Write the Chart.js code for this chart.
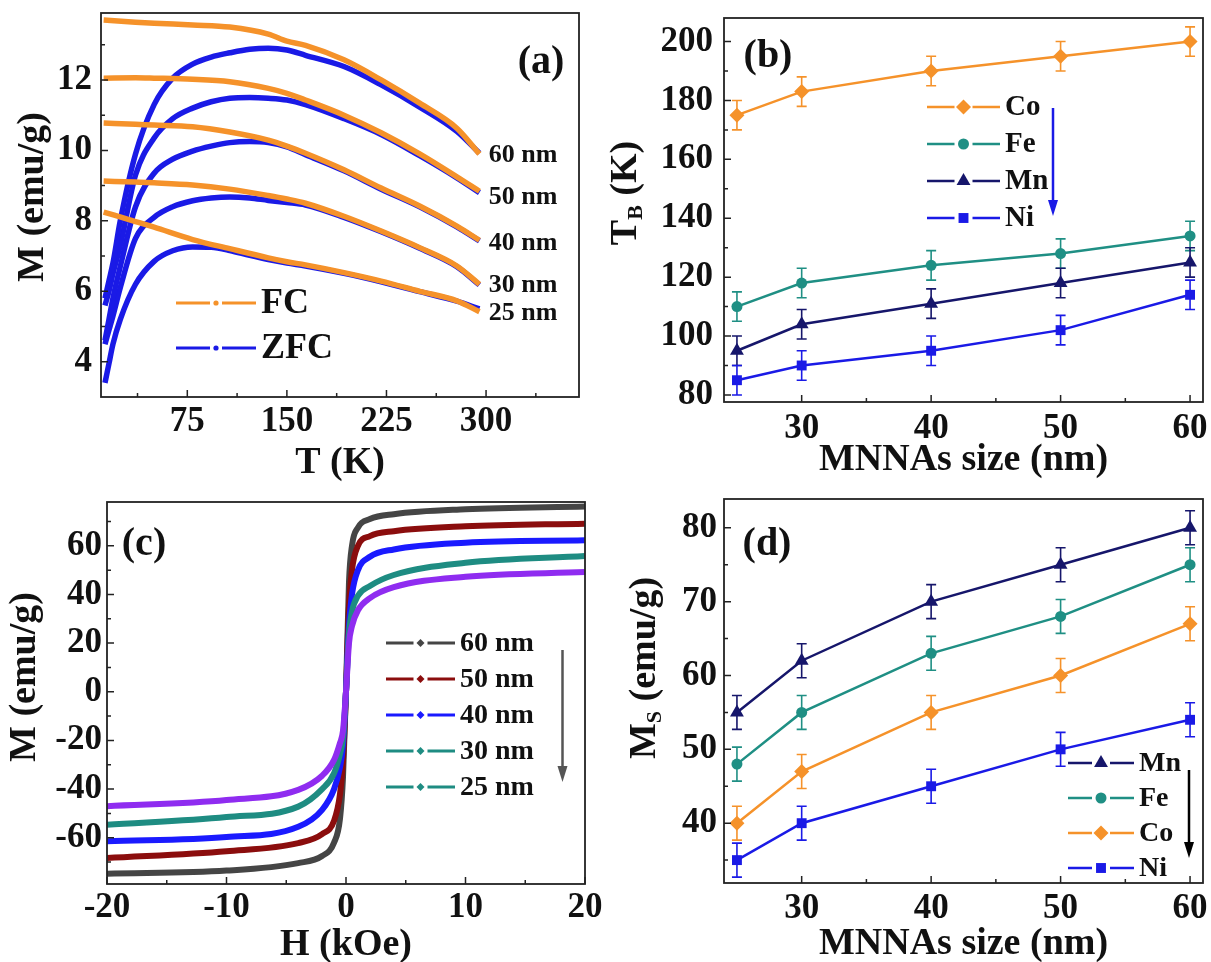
<!DOCTYPE html>
<html>
<head>
<meta charset="utf-8">
<script src="https://cdn.jsdelivr.net/npm/chart.js@4.4.1/dist/chart.umd.min.js"></script>
<style>
body { margin: 0; background: #fff; }
#fig { position: relative; width: 1211px; height: 962px; overflow: hidden; background: #fff; }
#fig canvas { position: absolute; }
</style>
</head>
<body>
<div id="fig">
  <canvas id="chartA" width="600" height="486" style="left:0;top:0"></canvas>
  <canvas id="chartB" width="611" height="486" style="left:600px;top:0"></canvas>
  <canvas id="chartC" width="611" height="480" style="left:0;top:482px"></canvas>
  <canvas id="chartD" width="611" height="480" style="left:600px;top:482px"></canvas>
</div>
<script>
// ---- (a) FC / ZFC, M (emu/g) vs T (K)
var tFC = [12, 36, 50, 79, 107, 136, 150, 164, 193, 221, 250, 278, 295];
var fc60 = [13.7, 13.64, 13.61, 13.56, 13.5, 13.3, 13.1, 12.98, 12.57, 12.0, 11.34, 10.63, 9.9];
var fc50 = [12.05, 12.06, 12.05, 12.02, 11.95, 11.76, 11.62, 11.43, 11.0, 10.5, 9.9, 9.25, 8.84];
var fc40 = [10.78, 10.74, 10.72, 10.67, 10.52, 10.29, 10.12, 9.92, 9.45, 8.93, 8.42, 7.85, 7.45];
var fc30 = [9.13, 9.1, 9.08, 9.02, 8.9, 8.72, 8.62, 8.5, 8.13, 7.71, 7.24, 6.72, 6.2];
var fc25 = [8.25, 7.98, 7.82, 7.47, 7.21, 6.95, 6.84, 6.75, 6.53, 6.29, 6.0, 5.73, 5.42];

var tZFC = [13, 16, 19, 24.5, 36, 50, 64, 79, 93, 107, 122, 136, 150, 164, 193, 221, 250, 278, 295];
var zfc60 = [5.8, 6.3, 6.8, 8.0, 9.9, 11.3, 12.05, 12.45, 12.65, 12.77, 12.87, 12.9, 12.85, 12.7, 12.38, 11.86, 11.23, 10.54, 9.92];
var zfc50 = [5.6, 6.0, 6.5, 7.3, 9.3, 10.35, 10.9, 11.2, 11.38, 11.48, 11.5, 11.48, 11.43, 11.3, 10.9, 10.45, 9.85, 9.22, 8.8];
var zfc40 = [4.6, 5.2, 5.8, 6.7, 8.4, 9.35, 9.75, 9.98, 10.12, 10.22, 10.25, 10.22, 10.1, 9.88, 9.42, 8.9, 8.4, 7.83, 7.43];
var zfc30 = [4.5, 4.9, 5.3, 6.1, 7.5, 8.1, 8.4, 8.57, 8.65, 8.68, 8.65, 8.58, 8.52, 8.45, 8.1, 7.69, 7.22, 6.7, 6.18];
var zfc25 = [3.4, 3.95, 4.5, 5.2, 6.2, 6.85, 7.15, 7.26, 7.25, 7.16, 7.02, 6.9, 6.8, 6.72, 6.51, 6.27, 5.99, 5.72, 5.5];

// ---- (c) M (emu/g) vs H (kOe)
var hField = [-20, -10, -4, -2, -1, -0.5, -0.25, 0, 0.25, 0.5, 1, 2, 4, 10, 20];
var m60 = [-74.8, -73.5, -70.4, -67.5, -62, -52, -35, 0, 45, 60, 67.5, 71, 73, 75, 76.2];
var m50 = [-68.3, -65.5, -62.2, -58.5, -53, -42, -28, 0, 35, 50, 60, 64, 66, 68, 69.1];
var m40 = [-61.4, -59.7, -55.5, -48.5, -40, -31, -22, 0, 27, 40, 50, 55.5, 58.5, 61.3, 62.3];
var m30 = [-54.6, -51.5, -47.2, -40, -33.5, -25.5, -19, 0, 24, 33, 39.5, 43.5, 48, 53, 55.8];
var m25 = [-47, -44.5, -40.3, -34.5, -28, -21, -16, 0, 20, 27, 33.5, 38.5, 43, 47.3, 49.2];

// ---- (b) T_B (K) and (d) M_S (emu/g) vs MNNAs size (nm)
var sizes = [25, 30, 40, 50, 60];
var tbCo = [175, 183, 190, 195, 200];
var tbFe = [110, 118, 124, 128, 134];
var tbMn = [95, 104, 111, 118, 125];
var tbNi = [85, 90, 95, 102, 114];
var tbErr = [5, 5, 5, 5, 5];

var msMn = [55, 62, 70, 75, 80];
var msFe = [48, 55, 63, 68, 75];
var msCo = [40, 47, 55, 60, 67];
var msNi = [35, 40, 45, 50, 54];
var msErr = [2.3, 2.3, 2.3, 2.3, 2.3];

// ---- ticks
var ticksTa = [75, 150, 225, 300], minorTa = [37.5, 112.5, 187.5, 262.5, 337.5];
var ticksMa = [4, 6, 8, 10, 12], minorMa = [5, 7, 9, 11, 13];
var ticksSize = [30, 40, 50, 60], minorSize = [35, 45, 55];
var ticksTB = [80, 100, 120, 140, 160, 180, 200], minorTB = [90, 110, 130, 150, 170, 190];
var ticksH = [-20, -10, 0, 10, 20], minorH = [-15, -5, 5, 15];
var ticksMc = [-60, -40, -20, 0, 20, 40, 60], minorMc = [-70, -50, -30, -10, 10, 30, 50, 70];
var ticksMs = [40, 50, 60, 70, 80], minorMs = [35, 45, 55, 65, 75];

var FAM = "'Liberation Serif', 'Times New Roman', serif";
var INK = '#111';
var ORANGE = '#f5922a', TEAL = '#1f8f84', NAVY = '#16166b', BLUE = '#1a1ae6';

function xy(xs, ys) {
  return xs.map(function (x, i) { return { x: x, y: ys[i] }; });
}

function drawMarker(ctx, style, x, y, r) {
  ctx.beginPath();
  if (style === 'circle') {
    ctx.arc(x, y, r, 0, Math.PI * 2);
  } else if (style === 'rect') {
    var s = r * Math.SQRT1_2;
    ctx.rect(x - s, y - s, 2 * s, 2 * s);
  } else if (style === 'rectRot') {
    ctx.moveTo(x, y - r); ctx.lineTo(x + r, y); ctx.lineTo(x, y + r); ctx.lineTo(x - r, y);
    ctx.closePath();
  } else if (style === 'triangle') {
    ctx.moveTo(x, y - r);
    ctx.lineTo(x + r * 0.866, y + r * 0.5);
    ctx.lineTo(x - r * 0.866, y + r * 0.5);
    ctx.closePath();
  }
  ctx.fill();
}

// per-canvas decoration: box, inward ticks, y titles, legends, arrows, labels
var decorCfg = {
  chartA: {
    minorX: minorTa, minorY: minorMa,
    yTitle: { x: 33, y: 197, parts: [{ t: 'M (emu/g)' }] },
    label: { text: '(a)', x: 541, y: 63 },
    legend: { x0: 176, y0: 303, dy: 45, w: 80, gap: 6, lw: 3, size: 36,
      items: [{ label: 'FC', color: ORANGE, marker: 'circle', r: 2.6 },
              { label: 'ZFC', color: BLUE, marker: 'circle', r: 2.6 }] },
    notes: { size: 26, items: [{ text: '60 nm', x: 302, y: 9.87 }, { text: '50 nm', x: 302, y: 8.67 },
      { text: '40 nm', x: 302, y: 7.36 }, { text: '30 nm', x: 302, y: 6.17 }, { text: '25 nm', x: 302, y: 5.37 }] }
  },
  chartB: {
    minorX: minorSize, minorY: minorTB,
    yTitle: { x: 26, y: 193, parts: [{ t: 'T' }, { t: 'B', sub: true }, { t: ' (K)' }] },
    label: { text: '(b)', x: 168, y: 57 },
    legend: { x0: 327, y0: 107, dy: 37, w: 73, gap: 9, lw: 2.5, size: 29,
      items: [{ label: 'Co', color: ORANGE, marker: 'rectRot', r: 7.5 },
              { label: 'Fe', color: TEAL, marker: 'circle', r: 5.5 },
              { label: 'Mn', color: NAVY, marker: 'triangle', r: 8 },
              { label: 'Ni', color: BLUE, marker: 'rect', r: 7 }] },
    arrow: { x: 453, y1: 108, y2: 216, color: BLUE }
  },
  chartC: {
    minorX: minorH, minorY: minorMc,
    yTitle: { x: 25, y: 195, parts: [{ t: 'M (emu/g)' }] },
    label: { text: '(c)', x: 144, y: 63 },
    legend: { x0: 386, y0: 161, dy: 36, w: 69, gap: 7, lw: 3, size: 28,
      items: [{ label: '60 nm', color: '#454545', marker: 'rectRot', r: 4 },
              { label: '50 nm', color: '#8b0d0d', marker: 'rectRot', r: 4 },
              { label: '40 nm', color: '#1a1aff', marker: 'rectRot', r: 4 },
              { label: '30 nm', color: '#1e8c82', marker: 'rectRot', r: 4 },
              { label: '25 nm', color: '#1e8c82', marker: 'rectRot', r: 4 }] },
    arrow: { x: 562.5, y1: 168, y2: 300, color: '#555' }
  },
  chartD: {
    minorX: minorSize, minorY: minorMs,
    yTitle: { x: 45, y: 186, parts: [{ t: 'M' }, { t: 'S', sub: true }, { t: ' (emu/g)' }] },
    label: { text: '(d)', x: 167, y: 63 },
    legend: { x0: 468, y0: 281, dy: 35, w: 66, gap: 9, lw: 2.5, size: 28,
      items: [{ label: 'Mn', color: NAVY, marker: 'triangle', r: 8 },
              { label: 'Fe', color: TEAL, marker: 'circle', r: 5.5 },
              { label: 'Co', color: ORANGE, marker: 'rectRot', r: 7.5 },
              { label: 'Ni', color: BLUE, marker: 'rect', r: 7 }] },
    arrow: { x: 589, y1: 288, y2: 376, color: '#000' }
  }
};

var decor = {
  id: 'decor',
  beforeDatasetsDraw: function (chart) {
    var ctx = chart.ctx, ys = chart.scales.y;
    chart.data.datasets.forEach(function (ds, i) {
      if (!ds.errorBars) return;
      var meta = chart.getDatasetMeta(i);
      ctx.save();
      ctx.strokeStyle = ds.borderColor;
      ctx.lineWidth = 1.6;
      meta.data.forEach(function (pt, j) {
        var v = ds.data[j].y, e = ds.errorBars[j];
        var y1 = ys.getPixelForValue(v + e), y2 = ys.getPixelForValue(v - e);
        ctx.beginPath();
        ctx.moveTo(pt.x, y1); ctx.lineTo(pt.x, y2);
        ctx.moveTo(pt.x - 5, y1); ctx.lineTo(pt.x + 5, y1);
        ctx.moveTo(pt.x - 5, y2); ctx.lineTo(pt.x + 5, y2);
        ctx.stroke();
      });
      ctx.restore();
    });
  },
  afterDraw: function (chart) {
    var c = decorCfg[chart.canvas.id];
    if (!c) return;
    var ctx = chart.ctx, a = chart.chartArea, xs = chart.scales.x, ys = chart.scales.y;
    ctx.save();

    // frame + inward ticks
    ctx.strokeStyle = '#222';
    ctx.lineWidth = 1.8;
    ctx.strokeRect(a.left, a.top, a.right - a.left, a.bottom - a.top);
    ctx.lineWidth = 1.5;
    ctx.beginPath();
    xs.ticks.forEach(function (t) { var p = xs.getPixelForValue(t.value); ctx.moveTo(p, a.bottom); ctx.lineTo(p, a.bottom - 7); });
    c.minorX.forEach(function (v) { var p = xs.getPixelForValue(v); ctx.moveTo(p, a.bottom); ctx.lineTo(p, a.bottom - 4); });
    ys.ticks.forEach(function (t) { var p = ys.getPixelForValue(t.value); ctx.moveTo(a.left, p); ctx.lineTo(a.left + 7, p); });
    c.minorY.forEach(function (v) { var p = ys.getPixelForValue(v); ctx.moveTo(a.left, p); ctx.lineTo(a.left + 4, p); });
    ctx.stroke();

    ctx.fillStyle = INK;
    ctx.textBaseline = 'middle';

    // y title (with optional subscript)
    var main = 'bold 38px ' + FAM, sub = 'bold 22px ' + FAM;
    ctx.save();
    ctx.translate(c.yTitle.x, c.yTitle.y);
    ctx.rotate(-Math.PI / 2);
    var total = 0;
    c.yTitle.parts.forEach(function (p) { ctx.font = p.sub ? sub : main; total += ctx.measureText(p.t).width; });
    var tx = -total / 2;
    ctx.textAlign = 'left';
    c.yTitle.parts.forEach(function (p) {
      ctx.font = p.sub ? sub : main;
      ctx.fillText(p.t, tx, p.sub ? 10 : 0);
      tx += ctx.measureText(p.t).width;
    });
    ctx.restore();

    // panel label
    ctx.font = 'bold 40px ' + FAM;
    ctx.textAlign = 'center';
    ctx.fillText(c.label.text, c.label.x, c.label.y);

    // legend
    var L = c.legend;
    L.items.forEach(function (it, i) {
      var y = L.y0 + i * L.dy, mid = L.x0 + L.w / 2;
      ctx.strokeStyle = it.color;
      ctx.fillStyle = it.color;
      ctx.lineWidth = L.lw;
      ctx.beginPath();
      ctx.moveTo(L.x0, y); ctx.lineTo(mid - L.gap, y);
      ctx.moveTo(mid + L.gap, y); ctx.lineTo(L.x0 + L.w, y);
      ctx.stroke();
      drawMarker(ctx, it.marker, mid, y, it.r);
      ctx.fillStyle = INK;
      ctx.font = 'bold ' + L.size + 'px ' + FAM;
      ctx.textAlign = 'left';
      ctx.fillText(it.label, L.x0 + L.w + 5, y + 1);
    });

    // arrow
    if (c.arrow) {
      var A = c.arrow;
      ctx.strokeStyle = A.color;
      ctx.fillStyle = A.color;
      ctx.lineWidth = 2.5;
      ctx.beginPath();
      ctx.moveTo(A.x, A.y1); ctx.lineTo(A.x, A.y2 - 12);
      ctx.stroke();
      ctx.beginPath();
      ctx.moveTo(A.x - 5, A.y2 - 16); ctx.lineTo(A.x + 5, A.y2 - 16); ctx.lineTo(A.x, A.y2);
      ctx.closePath();
      ctx.fill();
    }

    // curve labels
    if (c.notes) {
      ctx.fillStyle = INK;
      ctx.font = 'bold ' + c.notes.size + 'px ' + FAM;
      ctx.textAlign = 'left';
      c.notes.items.forEach(function (n) {
        ctx.fillText(n.text, xs.getPixelForValue(n.x), ys.getPixelForValue(n.y));
      });
    }
    ctx.restore();
  }
};
Chart.register(decor);

function tickFont() { return { family: FAM, size: 35, weight: 'bold' }; }

function axes(o) {
  return {
    x: {
      type: 'linear', min: o.xMin, max: o.xMax,
      afterBuildTicks: function (s) { s.ticks = o.xTicks.map(function (v) { return { value: v }; }); },
      afterFit: function (s) { s.height = o.xH; s.paddingLeft = 0; s.paddingRight = 0; },
      grid: { display: false, drawTicks: false },
      border: { display: false },
      ticks: { padding: o.xPad, color: INK, font: tickFont(), maxRotation: 0, autoSkip: false,
        callback: function (v) { return String(v); } },
      title: { display: true, text: o.xTitle, color: INK,
        font: { family: FAM, size: 38, weight: 'bold', lineHeight: 0.8 },
        padding: { top: 0, bottom: o.titlePad } }
    },
    y: {
      type: 'linear', min: o.yMin, max: o.yMax,
      afterBuildTicks: function (s) { s.ticks = o.yTicks.map(function (v) { return { value: v }; }); },
      afterFit: function (s) { s.width = o.yW; s.paddingTop = 0; s.paddingBottom = 0; },
      grid: { display: false, drawTicks: false },
      border: { display: false },
      ticks: { padding: o.yPad, color: INK, font: tickFont(), autoSkip: false,
        callback: function (v) { return String(v); } }
    }
  };
}

function baseOptions(o, pad) {
  return {
    responsive: false,
    animation: false,
    layout: { padding: pad },
    plugins: { legend: { display: false }, tooltip: { enabled: false } },
    scales: axes(o)
  };
}

function curve(xs, ys, color, width, order) {
  return { data: xy(xs, ys), borderColor: color, borderWidth: width, pointRadius: 0,
    cubicInterpolationMode: 'monotone', fill: false, order: order };
}

function series(ys, errs, color, style, r) {
  return { data: xy(sizes, ys), errorBars: errs, borderColor: color, backgroundColor: color,
    borderWidth: 2.5, pointStyle: style, pointRadius: r, pointBorderWidth: 0, fill: false };
}

// (a)
new Chart(document.getElementById('chartA'), {
  type: 'line',
  data: { datasets: [
    curve(tFC, fc60, ORANGE, 5.5, 0), curve(tFC, fc50, ORANGE, 5.5, 0), curve(tFC, fc40, ORANGE, 5.5, 0),
    curve(tFC, fc30, ORANGE, 5.5, 0), curve(tFC, fc25, ORANGE, 5.5, 0),
    curve(tZFC, zfc60, BLUE, 5.5, 1), curve(tZFC, zfc50, BLUE, 5.5, 1), curve(tZFC, zfc40, BLUE, 5.5, 1),
    curve(tZFC, zfc30, BLUE, 5.5, 1), curve(tZFC, zfc25, BLUE, 5.5, 1)
  ] },
  options: baseOptions({ xMin: 10, xMax: 370, yMin: 3, yMax: 13.9, xTicks: ticksTa, yTicks: ticksMa,
    xH: 89, yW: 101, xPad: 4, yPad: 9, xTitle: 'T (K)', titlePad: 8 },
    { left: 0, top: 13, right: 21, bottom: 0 })
});

// (b)
new Chart(document.getElementById('chartB'), {
  type: 'line',
  data: { datasets: [
    series(tbCo, tbErr, ORANGE, 'rectRot', 7.5),
    series(tbFe, tbErr, TEAL, 'circle', 5.5),
    series(tbMn, tbErr, NAVY, 'triangle', 8),
    series(tbNi, tbErr, BLUE, 'rect', 7)
  ] },
  options: baseOptions({ xMin: 24, xMax: 61, yMin: 77.6, yMax: 208, xTicks: ticksSize, yTicks: ticksTB,
    xH: 84, yW: 124, xPad: 6, yPad: 11, xTitle: 'MNNAs size (nm)', titlePad: 11 },
    { left: 0, top: 18, right: 8, bottom: 0 })
});

// (c)
new Chart(document.getElementById('chartC'), {
  type: 'line',
  data: { datasets: [
    curve(hField, m60, '#454545', 6, 4),
    curve(hField, m50, '#8b0d0d', 6, 3),
    curve(hField, m40, '#1a1aff', 6, 2),
    curve(hField, m30, '#1e8c82', 6, 1),
    curve(hField, m25, '#8f2cf0', 6, 0)
  ] },
  options: baseOptions({ xMin: -20, xMax: 20, yMin: -79, yMax: 78, xTicks: ticksH, yTicks: ticksMc,
    xH: 78, yW: 107, xPad: 3, yPad: 5, xTitle: 'H (kOe)', titlePad: 2 },
    { left: 0, top: 20, right: 26, bottom: 0 })
});

// (d)
new Chart(document.getElementById('chartD'), {
  type: 'line',
  data: { datasets: [
    series(msMn, msErr, NAVY, 'triangle', 8),
    series(msFe, msErr, TEAL, 'circle', 5.5),
    series(msCo, msErr, ORANGE, 'rectRot', 7.5),
    series(msNi, msErr, BLUE, 'rect', 7)
  ] },
  options: baseOptions({ xMin: 24, xMax: 61, yMin: 31.9, yMax: 83.9, xTicks: ticksSize, yTicks: ticksMs,
    xH: 79, yW: 124, xPad: 5, yPad: 7, xTitle: 'MNNAs size (nm)', titlePad: 3 },
    { left: 0, top: 17, right: 8, bottom: 0 })
});
</script>
</body>
</html>
